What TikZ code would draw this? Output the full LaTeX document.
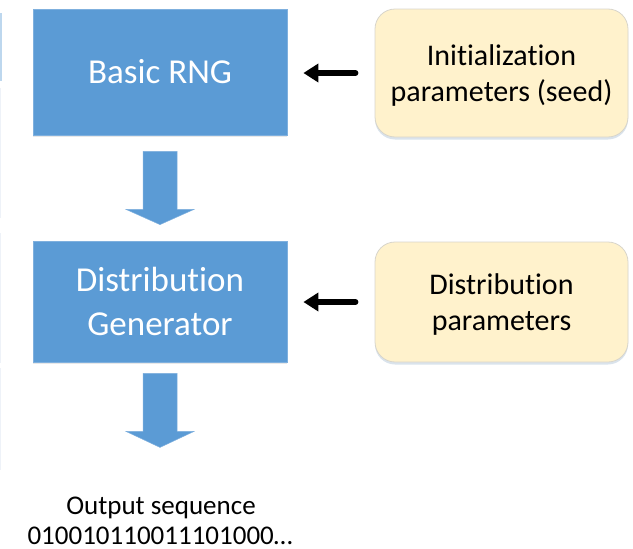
\documentclass[tikz,border=0pt]{standalone}
\usepackage{fontspec}
\setmainfont{Carlito}[Ligatures={NoCommon}]
\usetikzlibrary{calc,shadows,arrows.meta}
\definecolor{boxblue}{HTML}{5B9BD5}
\definecolor{boxblueedge}{HTML}{7FB0DE}
\definecolor{paramfill}{HTML}{FFF2CC}
\definecolor{paramedge}{HTML}{D8D5CB}
\definecolor{edgeline}{HTML}{BDD7EE}
\definecolor{edgefaint}{HTML}{EEF2F8}
\tikzset{
  stagebox/.style={rectangle, fill=boxblue, draw=boxblueedge, line width=0.8pt,
    text=white, font=\fontsize{35}{44}\selectfont, align=center,
    drop shadow={shadow xshift=0pt, shadow yshift=-2pt, opacity=0.18, fill=gray}},
  parambox/.style={rectangle, rounded corners=20pt, fill=paramfill, draw=paramedge,
    line width=0.8pt, text=black, font=\fontsize{30}{36}\selectfont, align=center,
    text depth=0pt,
    drop shadow={shadow xshift=0pt, shadow yshift=-2.5pt, opacity=0.25, fill=boxblue!60!gray}},
  feedarrow/.style={line width=5.5pt, line cap=round,
    -{Triangle[length=15pt,width=18pt]}},
  flowarrow/.style={fill=boxblue, draw=boxblueedge, line width=0.5pt},
  outtext/.style={font=\fontsize{27}{31}\selectfont, inner sep=0pt, anchor=base}
}
\begin{document}
\begin{tikzpicture}[x=1pt,y=-1pt]
\useasboundingbox (0,0) rectangle (633,549);

% thin rule along the left margin
\draw[edgeline, line width=1.5pt] (0.75,13) -- (0.75,81);
\draw[edgefaint, line width=1.2pt] (0.6,88) -- (0.6,218);
\draw[edgefaint, line width=1.2pt] (0.6,233) -- (0.6,363);
\draw[edgefaint, line width=1.2pt] (0.6,368) -- (0.6,470);

% processing stages
\node[stagebox, minimum width=254pt, minimum height=126pt] (rng) at (160,72) {Basic RNG};
\node[stagebox, minimum width=254pt, minimum height=121pt] (dist) at (160,301.5) {Distribution\\Generator};

% parameter inputs
\node[parambox, minimum width=253pt, minimum height=128pt] (seed) at (501.5,73) {Initialization\\parameters (seed)};
\node[parambox, minimum width=253pt, minimum height=120pt] (dpar) at (501.5,302) {Distribution\\parameters};

% inputs feeding the stages
\draw[feedarrow, shorten <=19pt, shorten >=16pt] (seed.west) -- (seed.west -| rng.east);
\draw[feedarrow, shorten <=19pt, shorten >=16pt] (dpar.west) -- (dpar.west -| dist.east);

% block arrows between stages
\fill[flowarrow] ($(rng.south)+(-17,16)$) -- ($(rng.south)+(17,16)$)
  -- ($(rng.south)+(17,74)$) -- ($(rng.south)+(34,74)$)
  -- ($(dist.north)+(0,-16)$)
  -- ($(rng.south)+(-34,74)$) -- ($(rng.south)+(-17,74)$) -- cycle;
\fill[flowarrow] ($(dist.south)+(-17,11)$) -- ($(dist.south)+(17,11)$)
  -- ($(dist.south)+(17,69)$) -- ($(dist.south)+(34,69)$)
  -- ($(dist.south)+(0,85)$)
  -- ($(dist.south)+(-34,69)$) -- ($(dist.south)+(-17,69)$) -- cycle;

% output
\node[outtext] (outa) at (161,514) {Output sequence};
\node[outtext] (outb) at (160,544.5) {010010110011101000…};
\end{tikzpicture}
\end{document}
